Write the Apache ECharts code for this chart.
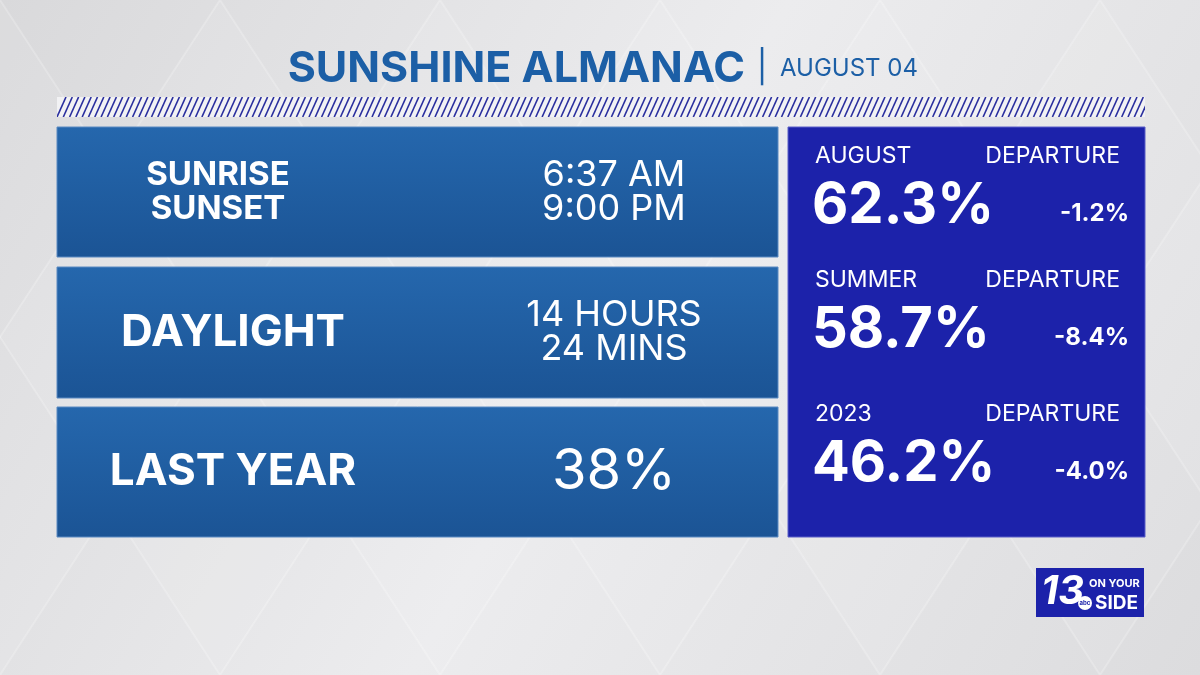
<!DOCTYPE html>
<html>
<head>
<meta charset="utf-8">
<script src="https://cdn.jsdelivr.net/npm/echarts@6/dist/echarts.min.js"></script>
<style>html,body{margin:0;padding:0;}#main{width:1200px;height:675px;}</style>
</head>
<body>
<div id="main"></div>
<script>
// card content
var title = 'SUNSHINE ALMANAC';
var dateLabel = 'AUGUST 04';
var leftLabels = ['SUNRISE\nSUNSET', 'DAYLIGHT', 'LAST YEAR'];
var leftValues = ['6:37 AM\n9:00 PM', '14 HOURS\n24 MINS', '38%'];
var rightLabels = ['AUGUST', 'SUMMER', '2023'];
var rightValues = ['62.3%', '58.7%', '46.2%'];
var departures = ['-1.2%', '-8.4%', '-4.0%'];

var F = 'Inter, "Open Sans", sans-serif';
var myChart = echarts.init(document.getElementById('main'));
var g = [];

// background
g.push({type: 'rect', shape: {x: 0, y: 0, width: 1200, height: 675}, style: {fill: new echarts.graphic.LinearGradient(0, 0, 1, 1, [{offset: 0, color: '#d9d9db'}, {offset: 0.5, color: '#ececee'}, {offset: 1, color: '#dcdcde'}])}});
// subtle diamonds
for (var i = -2; i < 8; i++) {
	g.push({type: 'polygon', shape: {points: [[i * 220, 337], [i * 220 + 220, 0], [i * 220 + 440, 337], [i * 220 + 220, 675]]}, style: {fill: 'rgba(255,255,255,0.08)', stroke: 'rgba(255,255,255,0.22)', lineWidth: 2}});
}

// title
g.push({type: 'text', x: 745, y: 69, style: {text: title, font: 'bold 43px ' + F, fill: '#1c5fa6', align: 'right', verticalAlign: 'middle'}});
g.push({type: 'text', x: 762, y: 68, style: {text: '|', font: '32px ' + F, fill: '#1c5fa6', align: 'center', verticalAlign: 'middle'}});
g.push({type: 'text', x: 780, y: 69, style: {text: dateLabel, font: '24px ' + F, fill: '#1c5fa6', align: 'left', verticalAlign: 'middle'}});

// hatch band
g.push({type: 'rect', shape: {x: 57, y: 97, width: 1088, height: 20}, style: {fill: '#f2f2f4'}});
var lines = [];
for (var x = 57; x < 1145; x += 6.3) {
	lines.push({type: 'line', shape: {x1: x, y1: 117, x2: x + 9, y2: 97}, style: {stroke: '#2a2f9e', lineWidth: 1.6}});
}
g.push({type: 'group', children: lines, clipPath: {type: 'rect', shape: {x: 57, y: 97, width: 1088, height: 20}}});

// left panels
var rowsY = [127, 267, 407];
var rowH = [130, 131, 130];
for (var k = 0; k < 3; k++) {
	g.push({type: 'rect', shape: {x: 57, y: rowsY[k], width: 721, height: rowH[k]}, style: {fill: new echarts.graphic.LinearGradient(0, 0, 0, 1, [{offset: 0, color: '#2567ad'}, {offset: 1, color: '#1b5495'}]), stroke: '#5a8ac2', lineWidth: 1}});
	var small = k === 0;
	g.push({type: 'text', x: small ? 218 : 233, y: rowsY[k] + rowH[k] / 2, style: {text: leftLabels[k], font: 'bold ' + (small ? 33 : 44) + 'px ' + F, lineHeight: small ? 34 : 44, fill: '#ffffff', align: 'center', verticalAlign: 'middle'}});
	g.push({type: 'text', x: 614, y: rowsY[k] + rowH[k] / 2, style: {text: leftValues[k], font: (k === 2 ? 56 : 36) + 'px ' + F, lineHeight: 34, fill: '#ffffff', align: 'center', verticalAlign: 'middle'}});
}

// right panel
g.push({type: 'rect', shape: {x: 788, y: 127, width: 357, height: 410}, style: {fill: '#1c22aa', stroke: '#5a5fc8', lineWidth: 1}});
var rY = [156, 280, 414];
for (var j = 0; j < 3; j++) {
	g.push({type: 'text', x: 815, y: rY[j], style: {text: rightLabels[j], font: '23px ' + F, fill: '#ffffff', align: 'left', verticalAlign: 'middle'}});
	g.push({type: 'text', x: 1120, y: rY[j], style: {text: 'DEPARTURE', font: '23px ' + F, fill: '#ffffff', align: 'right', verticalAlign: 'middle'}});
	g.push({type: 'text', x: 812, y: rY[j] + 50, style: {text: rightValues[j], font: 'bold 56px ' + F, fill: '#ffffff', align: 'left', verticalAlign: 'middle'}});
	g.push({type: 'text', x: 1129, y: rY[j] + 58, style: {text: departures[j], font: 'bold 24px ' + F, fill: '#ffffff', align: 'right', verticalAlign: 'middle'}});
}

// logo
g.push({type: 'rect', shape: {x: 1036, y: 568, width: 108, height: 49}, style: {fill: '#1c22aa'}});
g.push({type: 'text', x: 1041, y: 592, style: {text: '13', font: 'italic bold 40px ' + F, fill: '#ffffff', align: 'left', verticalAlign: 'middle'}});
g.push({type: 'circle', shape: {cx: 1085, cy: 603, r: 7}, style: {fill: '#ffffff'}});
g.push({type: 'text', x: 1085, y: 603, style: {text: 'abc', font: 'bold 6px ' + F, fill: '#1c22aa', align: 'center', verticalAlign: 'middle'}});
g.push({type: 'text', x: 1089, y: 584, style: {text: 'ON YOUR', font: 'bold 11px ' + F, fill: '#ffffff', align: 'left', verticalAlign: 'middle'}});
g.push({type: 'text', x: 1095, y: 603, style: {text: 'SIDE', font: 'bold 19px ' + F, fill: '#ffffff', align: 'left', verticalAlign: 'middle'}});

myChart.setOption({animation: false, graphic: {elements: g}});
</script>
</body>
</html>
